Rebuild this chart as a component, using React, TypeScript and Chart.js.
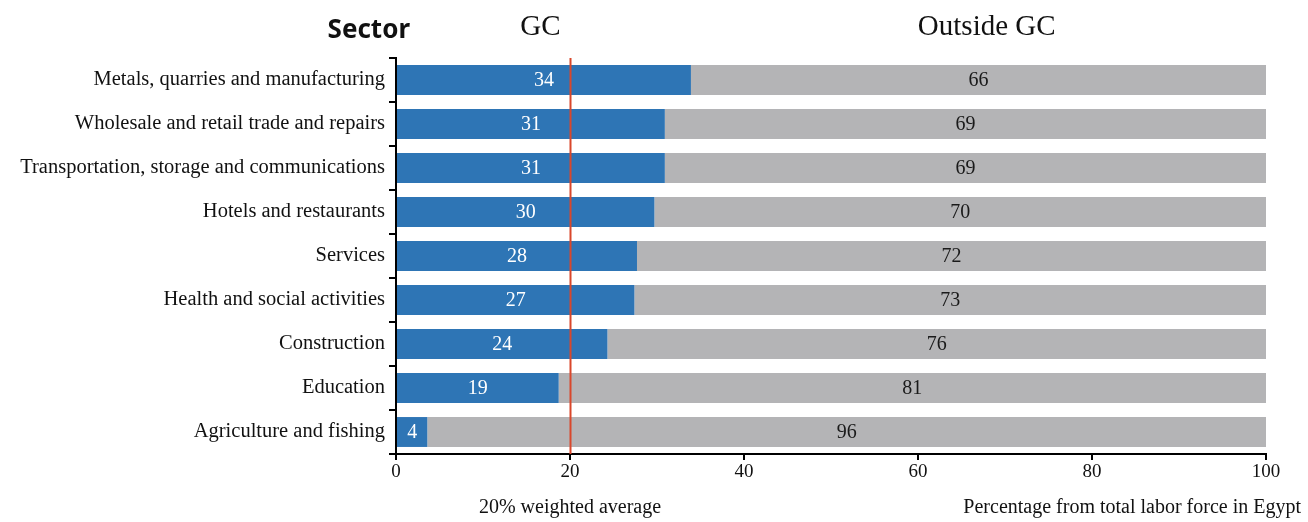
import React, { useEffect, useRef } from "react";
import { Chart, registerables } from "chart.js";

Chart.register(...registerables);

const sectors = [
  "Metals, quarries and manufacturing",
  "Wholesale and retail trade and repairs",
  "Transportation, storage and communications",
  "Hotels and restaurants",
  "Services",
  "Health and social activities",
  "Construction",
  "Education",
  "Agriculture and fishing",
];
const gcShare = [33.9, 30.9, 30.9, 29.7, 27.7, 27.4, 24.3, 18.7, 3.6];
const outsideShare = [66.1, 69.1, 69.1, 70.3, 72.3, 72.6, 75.7, 81.3, 96.4];
const gcLabels = ["34", "31", "31", "30", "28", "27", "24", "19", "4"];
const outsideLabels = ["66", "69", "69", "70", "72", "73", "76", "81", "96"];
const xTicks = [0, 20, 40, 60, 80, 100];
const weightedAverage = 20;

const SERIF = '"Liberation Serif", "DejaVu Serif", serif';
const BLUE = "#2e75b5";
const GRAY = "#b4b4b6";
const RED = "#d9472b";

const overlayPlugin = {
  id: "overlay",
  afterDatasetsDraw(chart: any) {
    const { ctx, chartArea, scales } = chart;
    const x = scales.x;
    // red average line
    const rx = Math.round(x.getPixelForValue(weightedAverage)) + 0.5;
    ctx.save();
    ctx.strokeStyle = RED;
    ctx.lineWidth = 2;
    ctx.beginPath();
    ctx.moveTo(rx, chartArea.top);
    ctx.lineTo(rx, chartArea.bottom);
    ctx.stroke();

    // value labels
    ctx.font = `20px ${SERIF}`;
    ctx.textAlign = "center";
    ctx.textBaseline = "middle";
    const labelSets = [gcLabels, outsideLabels];
    const colors = ["#ffffff", "#1a1a1a"];
    chart.data.datasets.forEach((ds: any, di: number) => {
      const meta = chart.getDatasetMeta(di);
      meta.data.forEach((bar: any, i: number) => {
        const { x: bx, base, y } = bar.getProps(["x", "base", "y"], true);
        ctx.fillStyle = colors[di];
        ctx.fillText(labelSets[di][i], (bx + base) / 2, y + 1);
      });
    });

    // titles
    ctx.fillStyle = "#111";
    ctx.textBaseline = "middle";
    ctx.font = `bold 26px "Noto Sans", "Open Sans", sans-serif`;
    ctx.textAlign = "right";
    ctx.fillText("Sector", chartArea.left + 14, 31);

    ctx.font = `29px ${SERIF}`;
    ctx.textAlign = "center";
    ctx.fillText("GC", x.getPixelForValue(16.6), 27);
    ctx.fillText("Outside GC", x.getPixelForValue(67.9), 27);

    ctx.font = `20px ${SERIF}`;
    ctx.textAlign = "center";
    ctx.fillText("20% weighted average", x.getPixelForValue(weightedAverage), 508);
    ctx.textAlign = "right";
    ctx.fillText("Percentage from total labor force in Egypt", chart.width - 7, 508);
    ctx.restore();
  },
};

export default function App() {
  const ref = useRef<HTMLCanvasElement | null>(null);
  useEffect(() => {
    document.body.style.margin = "0";
    const chart = new Chart(ref.current as HTMLCanvasElement, {
      type: "bar",
      data: {
        labels: sectors,
        datasets: [
          {
            label: "GC",
            data: gcShare,
            backgroundColor: BLUE,
            barPercentage: 0.68,
            categoryPercentage: 1,
          },
          {
            label: "Outside GC",
            data: outsideShare,
            backgroundColor: GRAY,
            barPercentage: 0.68,
            categoryPercentage: 1,
          },
        ],
      },
      options: {
        indexAxis: "y",
        animation: false,
        responsive: false,
        maintainAspectRatio: false,
        layout: { padding: { top: 58, right: 42, left: 0, bottom: 0 } },
        plugins: {
          legend: { display: false },
          tooltip: { enabled: false },
        },
        scales: {
          x: {
            stacked: true,
            min: 0,
            max: 100,
            afterFit: (s: any) => {
              s.height = 68;
            },
            afterBuildTicks: (s: any) => {
              s.ticks = xTicks.map((v) => ({ value: v }));
            },
            grid: {
              drawOnChartArea: false,
              drawTicks: true,
              tickLength: 6,
              color: "#000",
              lineWidth: 2,
            },
            border: { color: "#000", width: 2 },
            ticks: {
              color: "#111",
              font: { family: SERIF, size: 19 },
              padding: 1,
              maxRotation: 0,
            },
          },
          y: {
            stacked: true,
            afterFit: (s: any) => {
              s.width = 396;
            },
            grid: {
              offset: true,
              drawOnChartArea: false,
              drawTicks: true,
              tickLength: 7,
              color: "#000",
              lineWidth: 2,
            },
            border: { color: "#000", width: 2 },
            ticks: {
              color: "#111",
              font: { family: SERIF, size: 20.5 },
              padding: 4,
              autoSkip: false,
            },
          },
        },
      },
      plugins: [overlayPlugin],
    });
    return () => chart.destroy();
  }, []);
  return (
    <div style={{ position: "absolute", left: 0, top: 0, width: 1308, height: 522 }}>
      <canvas ref={ref} width={1308} height={522} style={{ width: 1308, height: 522 }} />
    </div>
  );
}
